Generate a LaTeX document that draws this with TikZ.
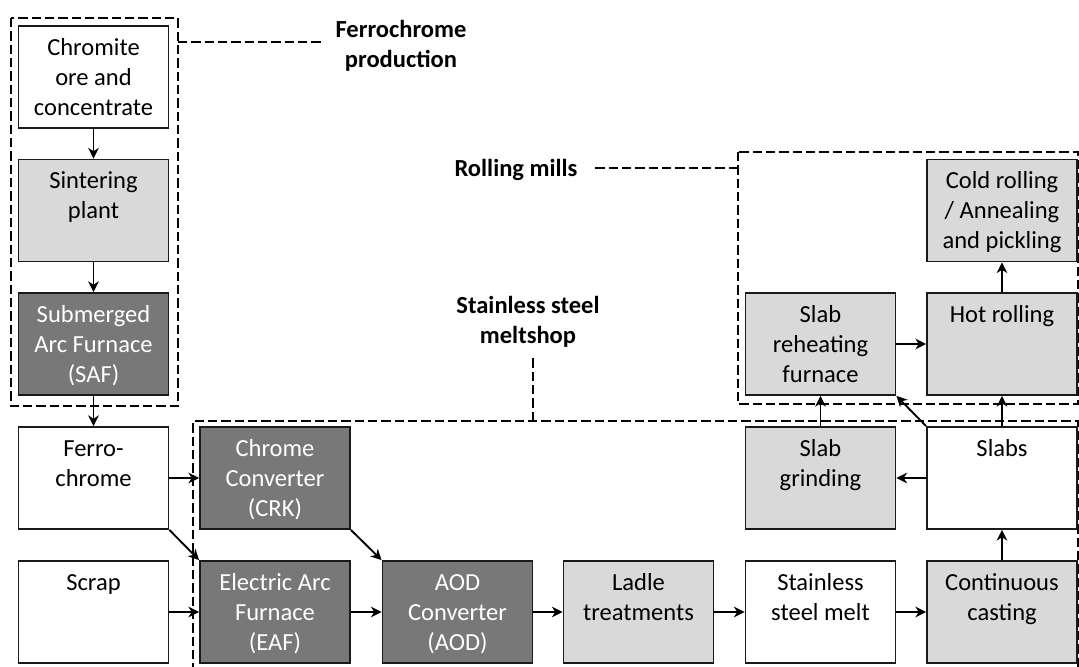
\documentclass[tikz,border=0pt]{standalone}
\usepackage{fontspec}
\setmainfont{Carlito}
\usetikzlibrary{arrows.meta, positioning}
\definecolor{darkFill}{HTML}{787878}
\definecolor{lightFill}{HTML}{D9D9D9}
\definecolor{lineGray}{HTML}{1A1A1A}

\newcommand{\boxtext}[1]{\begin{minipage}[c][76.5pt][t]{112.5pt}\centering\rule{0pt}{22pt}#1\end{minipage}}

\tikzset{
  box/.style={draw=lineGray, line width=1.4pt, inner sep=0pt, fill=white},
  darkbox/.style={box, fill=darkFill, text=white},
  lightbox/.style={box, fill=lightFill},
  frame/.style={line width=1.7pt, dash pattern=on 7pt off 3pt},
  flow/.style={-{Stealth[length=8pt, width=8pt, inset=2.5pt]}, line width=1.4pt},
  tag/.style={font=\bfseries\fontsize{18.4pt}{22.5pt}\selectfont, align=center}
}

\begin{document}
\begin{tikzpicture}[x=0.75pt, y=-0.75pt, font=\fontsize{18.4pt}{22.5pt}\selectfont]
  \useasboundingbox (0,0) rectangle (1079,667);

  % dashed areas
  \draw[frame] (11,18) rectangle (178,406);
  \draw[frame] (738,152) rectangle (1078,404);
  \draw[frame] (1078,667) -- (1078,421) -- (193,421) -- (193,667);

  % ferrochrome line
  \node[box] (chrom) at (93.5,77) {\boxtext{Chromite\\ore and\\concentrate}};
  \node[lightbox] (sinter) at (93.5,210.5) {\boxtext{Sintering\\plant}};
  \node[darkbox] (saf) at (93.5,344) {\boxtext{Submerged\\Arc Furnace\\(SAF)}};
  \node[box] (ferro) at (93.5,478) {\boxtext{Ferro-\\chrome}};
  \node[box] (scrap) at (93.5,612) {\boxtext{Scrap}};

  % meltshop
  \node[darkbox] (crk) at (275,478) {\boxtext{Chrome\\Converter\\(CRK)}};
  \node[darkbox] (eaf) at (275,612) {\boxtext{Electric Arc\\Furnace\\(EAF)}};
  \node[darkbox] (aod) at (457.5,612) {\boxtext{AOD\\Converter\\(AOD)}};
  \node[lightbox] (ladle) at (638.5,612) {\boxtext{Ladle\\treatments}};
  \node[box] (melt) at (820.5,612) {\boxtext{Stainless\\steel melt}};
  \node[lightbox] (casting) at (1002,612) {\boxtext{Continuous\\casting}};
  \node[box] (slabs) at (1002,478) {\boxtext{Slabs}};
  \node[lightbox] (grind) at (820.5,478) {\boxtext{Slab\\grinding}};

  % rolling mills
  \node[lightbox] (reheat) at (820.5,344) {\boxtext{Slab\\reheating\\furnace}};
  \node[lightbox] (hot) at (1002,344) {\boxtext{Hot rolling}};
  \node[lightbox] (cold) at (1002,210.5) {\boxtext{Cold rolling\\/ Annealing\\and pickling}};

  % area names
  \node[tag] (fclabel) at (401,46) {Ferrochrome\\production};
  \node[tag] (rmlabel) at (516,170) {Rolling mills};
  \node[tag] (sslabel) at (528,322) {Stainless steel\\meltshop};

  \coordinate (fcjoin) at (178,42);
  \coordinate (rmjoin) at (738,168);
  \coordinate (ssjoin) at (533,421);
  \draw[frame, shorten >=6pt] (fcjoin) -- (fcjoin -| fclabel.west);
  \draw[frame, shorten >=7pt] (rmjoin) -- (rmjoin -| rmlabel.east);
  \draw[frame, shorten >=2pt] (ssjoin) -- (ssjoin |- sslabel.south);

  % flows
  \draw[flow] (chrom) -- (sinter);
  \draw[flow] (sinter) -- (saf);
  \draw[flow] (saf) -- (ferro);
  \draw[flow] (ferro) -- (crk);
  \draw[flow] (ferro.south east) -- (eaf.north west);
  \draw[flow] (scrap) -- (eaf);
  \draw[flow] (crk.south east) -- (aod.north west);
  \foreach \a/\b in {eaf/aod, aod/ladle, ladle/melt, melt/casting}
    \draw[flow] (\a) -- (\b);
  \draw[flow] (casting) -- (slabs);
  \draw[flow] (slabs) -- (grind);
  \draw[flow] (grind) -- (reheat);
  \draw[flow] (slabs.north west) -- (reheat.south east);
  \draw[flow] (slabs) -- (hot);
  \draw[flow] (reheat) -- (hot);
  \draw[flow] (hot) -- (cold);
\end{tikzpicture}
\end{document}
